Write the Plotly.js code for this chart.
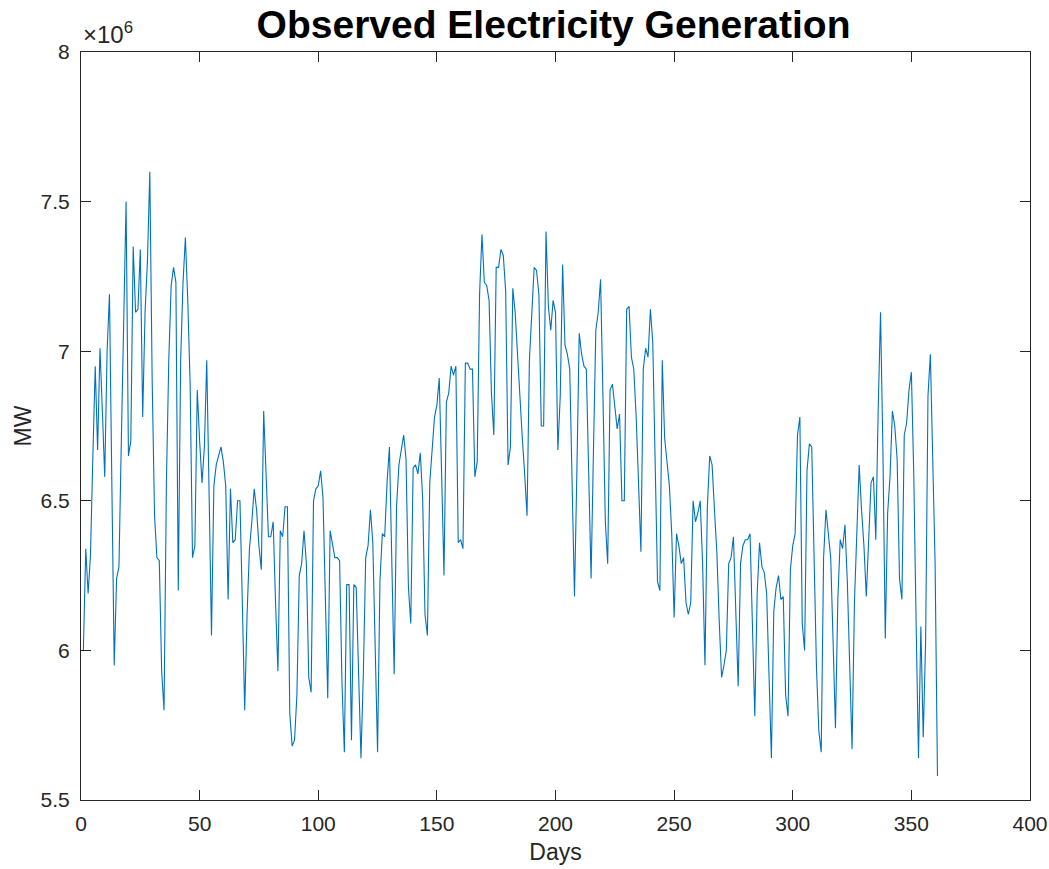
<!DOCTYPE html>
<html>
<head>
<meta charset="utf-8">
<script src="https://cdn.plot.ly/plotly-3.0.1.min.js"></script>
<style>html,body{margin:0;padding:0;background:#fff;}#chart{width:1049px;height:869px;}</style>
</head>
<body>
<div id="chart"></div>
<script>
// Observed generation, in units of 1e6 MW, one value per day starting at day 1
const generationMillions = [
  6.00, 6.34, 6.19, 6.32, 6.65, 6.95, 6.67, 7.01, 6.80, 6.58,
  7.00, 7.19, 6.56, 5.95, 6.24, 6.28, 6.70, 7.17, 7.50, 6.65,
  6.70, 7.35, 7.13, 7.14, 7.34, 6.78, 7.13, 7.30, 7.60, 6.90,
  6.45, 6.31, 6.30, 5.93, 5.80, 6.56, 6.97, 7.22, 7.28, 7.23,
  6.20, 6.97, 7.23, 7.38, 7.17, 6.89, 6.31, 6.35, 6.87, 6.70,
  6.56, 6.68, 6.97, 6.52, 6.05, 6.55, 6.62, 6.65, 6.68, 6.63,
  6.55, 6.17, 6.54, 6.36, 6.37, 6.50, 6.50, 6.16, 5.80, 6.12,
  6.34, 6.43, 6.54, 6.47, 6.35, 6.27, 6.80, 6.59, 6.38, 6.38,
  6.43, 6.16, 5.93, 6.40, 6.38, 6.48, 6.48, 5.79, 5.68, 5.70,
  5.85, 6.25, 6.29, 6.40, 6.29, 5.91, 5.86, 6.50, 6.54, 6.55,
  6.60, 6.51, 6.16, 5.84, 6.40, 6.36, 6.31, 6.31, 6.30, 5.89,
  5.66, 6.22, 6.22, 5.70, 6.22, 6.21, 5.92, 5.64, 5.92, 6.31,
  6.35, 6.47, 6.36, 6.03, 5.66, 6.23, 6.39, 6.38, 6.56, 6.68,
  6.29, 5.92, 6.48, 6.62, 6.67, 6.72, 6.64, 6.21, 6.09, 6.61,
  6.62, 6.59, 6.66, 6.51, 6.12, 6.05, 6.56, 6.67, 6.78, 6.82,
  6.91, 6.59, 6.25, 6.83, 6.86, 6.95, 6.92, 6.95, 6.36, 6.37,
  6.34, 6.96, 6.96, 6.94, 6.94, 6.58, 6.63, 7.19, 7.39, 7.23,
  7.22, 7.17, 6.86, 6.72, 7.28, 7.28, 7.34, 7.32, 7.20, 6.62,
  6.68, 7.21, 7.13, 6.99, 6.83, 6.71, 6.59, 6.45, 6.97, 7.15,
  7.28, 7.27, 7.19, 6.75, 6.75, 7.40, 7.15, 7.07, 7.17, 7.13,
  6.67, 6.85, 7.29, 7.02, 6.99, 6.94, 6.55, 6.18, 6.59, 7.06,
  6.99, 6.95, 6.94, 6.59, 6.24, 6.67, 7.07, 7.13, 7.24, 6.85,
  6.43, 6.29, 6.87, 6.89, 6.82, 6.74, 6.79, 6.50, 6.50, 7.14,
  7.15, 6.98, 6.94, 6.78, 6.56, 6.33, 6.94, 7.01, 6.98, 7.14,
  7.03, 6.62, 6.23, 6.20, 6.97, 6.71, 6.64, 6.55, 6.39, 6.11,
  6.39, 6.35, 6.29, 6.31, 6.16, 6.12, 6.16, 6.50, 6.43, 6.46,
  6.50, 6.29, 5.95, 6.48, 6.65, 6.62, 6.47, 6.33, 6.10, 5.91,
  5.95, 6.00, 6.29, 6.31, 6.38, 6.16, 5.88, 6.29, 6.35, 6.37,
  6.37, 6.39, 6.03, 5.78, 6.19, 6.36, 6.28, 6.26, 6.19, 5.89,
  5.64, 6.13, 6.21, 6.25, 6.17, 6.18, 5.85, 5.78, 6.27, 6.35,
  6.39, 6.72, 6.78, 6.09, 6.00, 6.60, 6.69, 6.68, 6.28, 5.94,
  5.73, 5.66, 6.31, 6.47, 6.39, 6.31, 6.03, 5.74, 6.17, 6.37,
  6.34, 6.42, 6.23, 5.93, 5.67, 6.16, 6.40, 6.62, 6.47, 6.35,
  6.18, 6.35, 6.56, 6.58, 6.37, 6.80, 7.13, 6.67, 6.04, 6.46,
  6.58, 6.80, 6.75, 6.64, 6.24, 6.17, 6.72, 6.76, 6.87, 6.93,
  6.59, 6.09, 5.64, 6.08, 5.71, 6.03, 6.85, 6.99, 6.63, 6.29,
  5.58
];
const days = generationMillions.map((_, i) => i + 1);

const xTickVals = [0, 50, 100, 150, 200, 250, 300, 350, 400];
const yTickVals = [5.5, 6, 6.5, 7, 7.5, 8];
const yTickText = ['5.5', '6', '6.5', '7', '7.5', '8'];

const axisColor = '#262626';
const fontFamily = 'Liberation Sans, Arial, Helvetica, sans-serif';

const trace = {
  x: days,
  y: generationMillions,
  type: 'scatter',
  mode: 'lines',
  line: {color: '#0072BD', width: 1.1},
  hoverinfo: 'x+y'
};

const layout = {
  width: 1049,
  height: 869,
  margin: {l: 81, r: 19, t: 52, b: 69},
  paper_bgcolor: '#ffffff',
  plot_bgcolor: '#ffffff',
  showlegend: false,
  font: {family: fontFamily, color: axisColor, size: 21},
  title: {
    text: '<b>Observed Electricity Generation</b>',
    font: {family: fontFamily, size: 39, color: '#000000'},
    x: 0.5277, xanchor: 'center',
    y: 0.972, yanchor: 'middle'
  },
  xaxis: {
    range: [0, 400],
    tickvals: xTickVals,
    ticks: 'inside',
    ticklen: 10,
    tickcolor: axisColor,
    showline: true,
    linecolor: axisColor,
    linewidth: 1,
    mirror: 'ticks',
    showgrid: false,
    zeroline: false,
    ticklabelstandoff: 5,
    tickfont: {size: 21, color: axisColor},
    title: {text: 'Days', font: {size: 23, color: axisColor}, standoff: 9}
  },
  yaxis: {
    range: [5.5, 8],
    tickvals: yTickVals,
    ticktext: yTickText,
    ticks: 'inside',
    ticklen: 10,
    tickcolor: axisColor,
    showline: true,
    linecolor: axisColor,
    linewidth: 1,
    mirror: 'ticks',
    showgrid: false,
    zeroline: false,
    ticklabelstandoff: 6,
    tickfont: {size: 21, color: axisColor},
    title: {text: 'MW', font: {size: 23, color: axisColor}, standoff: 2}
  },
  annotations: [{
    xref: 'paper', yref: 'paper',
    x: 0, y: 1,
    xanchor: 'left', yanchor: 'bottom',
    yshift: 2,
    text: '×10<sup>6</sup>',
    showarrow: false,
    font: {family: fontFamily, size: 24, color: axisColor}
  }]
};

Plotly.newPlot('chart', [trace], layout, {displayModeBar: false, staticPlot: true});
</script>
</body>
</html>
